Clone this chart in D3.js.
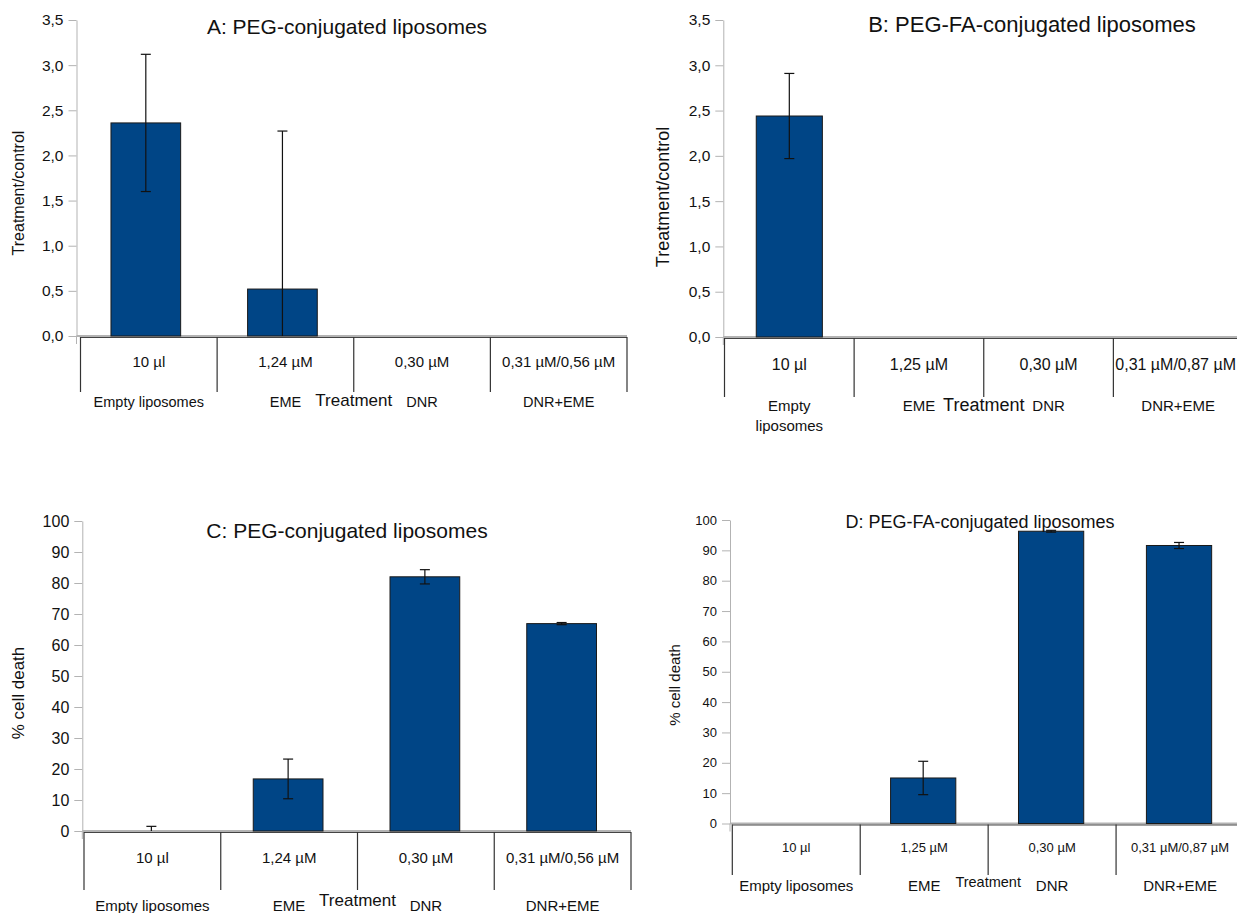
<!DOCTYPE html>
<html lang="en">
<head>
<meta charset="UTF-8">
<title>Liposome treatment panels</title>
<style>
  body { margin: 0; background: #fff; }
  svg { font-family: "Liberation Sans", Arial, sans-serif; display: block; }
  svg text { fill: #111; }
  .y-axis path, .y-axis line { stroke: #b3b3b3; }
</style>
</head>
<body>
<svg id="chart" width="1237" height="913"></svg>
<script src="https://d3js.org/d3.v7.min.js"></script>
<script>
// categories
const groups = ["Empty liposomes", "EME", "DNR", "DNR+EME"];
const dosesPEG = ["10 µl", "1,24 µM", "0,30 µM", "0,31 µM/0,56 µM"];
const dosesFA = ["10 µl", "1,25 µM", "0,30 µM", "0,31 µM/0,87 µM"];

// A and B: treatment/control ratio (mean, error)
const ratioPEG = [2.36, 0.52, 0, 0];
const ratioPEGErr = [0.76, 1.75, 0, 0];
const ratioFA = [2.44, 0, 0, 0];
const ratioFAErr = [0.47, 0, 0, 0];

// C and D: % cell death (mean, error)
const deathPEG = [0, 16.8, 82.0, 66.9];
const deathPEGErr = [1.5, 6.4, 2.3, 0.35];
const deathFA = [0, 15.0, 96.3, 91.6];
const deathFAErr = [0, 5.5, 0.3, 1.0];

// tick values
const ratioTicks = [0, 0.5, 1, 1.5, 2, 2.5, 3, 3.5];
const deathTicks = [0, 10, 20, 30, 40, 50, 60, 70, 80, 90, 100];

const commaFmt = d => d3.format(".1f")(d).replace(".", ",");
const intFmt = d3.format("d");

const W = 1237;
const svg = d3.select("#chart");

const panels = [
  { title: "A: PEG-conjugated liposomes", titleX: 347, titleY: 27, titleFont: 21,
    values: ratioPEG, errs: ratioPEGErr, doses: dosesPEG, max: 3.5, ticks: ratioTicks, fmt: commaFmt,
    axisX: 76.5, x0: 80.5, x1: 627, yBase: 336, yTop: 20, tickFont: 15.5, lineEnd: 627, barShift: -3,
    yLabel: "Treatment/control", yLabelX: 18, yLabelY: 193, yLabelFont: 16,
    divBottom: 392, doseY: 362, doseFont: 15, groupY: 402, groupFont: 14.5, xLabelY: 400, xLabelFont: 17 },
  { title: "B: PEG-FA-conjugated liposomes", titleX: 1032, titleY: 24, titleFont: 22,
    values: ratioFA, errs: ratioFAErr, doses: dosesFA, max: 3.5, ticks: ratioTicks, fmt: commaFmt,
    axisX: 723.3, x0: 724.5, x1: 1243, yBase: 337, yTop: 20, tickFont: 15.5, lineEnd: W, barShift: 0,
    yLabel: "Treatment/control", yLabelX: 663, yLabelY: 197, yLabelFont: 18,
    divBottom: 397, doseY: 364, doseFont: 16, groupY: 406, groupFont: 15, wrap: true, xLabelY: 405, xLabelFont: 18 },
  { title: "C: PEG-conjugated liposomes", titleX: 347, titleY: 531, titleFont: 21,
    values: deathPEG, errs: deathPEGErr, doses: dosesPEG, max: 100, ticks: deathTicks, fmt: intFmt,
    axisX: 82.3, x0: 84, x1: 631, yBase: 831, yTop: 521, tickFont: 16, lineEnd: 631, barShift: -1,
    yLabel: "% cell death", yLabelX: 18, yLabelY: 693, yLabelFont: 17,
    divBottom: 890, doseY: 858, doseFont: 15, groupY: 906, groupFont: 15, xLabelY: 900, xLabelFont: 17 },
  { title: "D: PEG-FA-conjugated liposomes", titleX: 980, titleY: 522, titleFont: 18,
    values: deathFA, errs: deathFAErr, doses: dosesFA, max: 100, ticks: deathTicks, fmt: intFmt,
    axisX: 730, x0: 732.3, x1: 1244, yBase: 823.5, yTop: 520, tickFont: 13, lineEnd: W, barShift: -1,
    yLabel: "% cell death", yLabelX: 675, yLabelY: 685, yLabelFont: 15,
    divBottom: 875, doseY: 847, doseFont: 13, groupY: 886, groupFont: 15, xLabelY: 882, xLabelFont: 14.5 }
];

panels.forEach(drawPanel);

function drawPanel(p) {
  const g = svg.append("g");
  const x = d3.scaleBand().domain(groups).range([p.x0, p.x1]);
  const y = d3.scaleLinear().domain([0, p.max]).range([p.yBase, p.yTop]);
  const bw = x.bandwidth();
  const barW = bw * 0.51;
  const cx = grp => x(grp) + bw / 2 + p.barShift;

  // y axis (gray line, ticks on the left)
  const ax = g.append("g")
    .attr("class", "y-axis")
    .attr("transform", `translate(${p.axisX},0)`)
    .call(d3.axisLeft(y).tickValues(p.ticks).tickFormat(p.fmt)
      .tickSize(8).tickPadding(5).tickSizeOuter(0));
  ax.selectAll("text").style("font-size", p.tickFont + "px").attr("fill", "#111");
  ax.append("line")
    .attr("x1", 0).attr("x2", 0)
    .attr("y1", p.yBase).attr("y2", p.yBase + 8);

  // baseline
  g.append("line")
    .attr("x1", p.axisX).attr("x2", p.lineEnd)
    .attr("y1", p.yBase).attr("y2", p.yBase)
    .attr("stroke", "#b3b3b3").attr("stroke-width", 2);
  g.append("line")
    .attr("x1", p.x0).attr("x2", p.lineEnd)
    .attr("y1", p.yBase + 1.5).attr("y2", p.yBase + 1.5)
    .attr("stroke", "#444").attr("stroke-width", 1);

  // category dividers
  const bounds = groups.map(d => x(d)).concat([p.x1]);
  g.selectAll(".div")
    .data(bounds)
    .enter().append("line")
    .attr("x1", d => d).attr("x2", d => d)
    .attr("y1", p.yBase + 1).attr("y2", p.divBottom)
    .attr("stroke", "#333").attr("stroke-width", 1.2);

  // bars
  groups.forEach((grp, i) => {
    const v = p.values[i];
    if (v > 0) {
      g.append("rect")
        .attr("x", cx(grp) - barW / 2)
        .attr("y", y(v))
        .attr("width", barW)
        .attr("height", y(0) - y(v))
        .attr("fill", "#004586")
        .attr("stroke", "#1a1a1a")
        .attr("stroke-width", 1);
    }
  });

  // error bars
  groups.forEach((grp, i) => {
    const v = p.values[i], e = p.errs[i];
    if (!e) return;
    const c = cx(grp);
    const lo = Math.max(0, v - e), hi = v + e;
    g.append("line")
      .attr("x1", c).attr("x2", c)
      .attr("y1", y(lo)).attr("y2", y(hi))
      .attr("stroke", "#111").attr("stroke-width", 1.2);
    const caps = [hi];
    if (v - e > 0) caps.push(lo);
    caps.forEach(cv => {
      g.append("line")
        .attr("x1", c - 5).attr("x2", c + 5)
        .attr("y1", y(cv)).attr("y2", y(cv))
        .attr("stroke", "#111").attr("stroke-width", 1.2);
    });
  });

  // dose labels (kept inside the picture's right edge)
  g.selectAll(".dose")
    .data(p.doses)
    .enter().append("text")
    .attr("x", (d, i) => x(groups[i]) + bw / 2)
    .attr("y", p.doseY)
    .attr("dy", "0.35em")
    .attr("text-anchor", "middle")
    .style("font-size", p.doseFont + "px")
    .text(d => d)
    .each(function () {
      const b = this.getBBox();
      if (b.x + b.width > W - 1) {
        d3.select(this).attr("x", +d3.select(this).attr("x") - (b.x + b.width - (W - 1)));
      }
    });

  // group labels
  groups.forEach(grp => {
    const t = g.append("text")
      .attr("x", x(grp) + bw / 2)
      .attr("y", p.groupY)
      .attr("text-anchor", "middle")
      .style("font-size", p.groupFont + "px");
    if (p.wrap && grp.includes(" ")) {
      grp.split(" ").forEach((w, k) => {
        t.append("tspan")
          .attr("x", x(grp) + bw / 2)
          .attr("dy", k === 0 ? "0.35em" : "1.3em")
          .text(w);
      });
    } else {
      t.attr("dy", "0.35em").text(grp);
    }
  });

  // x axis title
  g.append("text")
    .attr("x", (p.x0 + p.x1) / 2)
    .attr("y", p.xLabelY)
    .attr("dy", "0.35em")
    .attr("text-anchor", "middle")
    .style("font-size", p.xLabelFont + "px")
    .text("Treatment");

  // y axis title
  g.append("text")
    .attr("transform", `translate(${p.yLabelX},${p.yLabelY}) rotate(-90)`)
    .attr("dy", "0.35em")
    .attr("text-anchor", "middle")
    .style("font-size", p.yLabelFont + "px")
    .text(p.yLabel);

  // panel title
  g.append("text")
    .attr("x", p.titleX)
    .attr("y", p.titleY)
    .attr("dy", "0.35em")
    .attr("text-anchor", "middle")
    .style("font-size", p.titleFont + "px")
    .text(p.title);
}
</script>
</body>
</html>
